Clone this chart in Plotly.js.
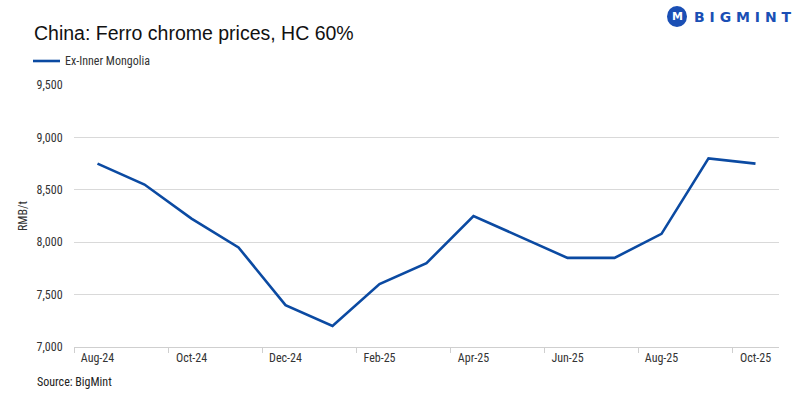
<!DOCTYPE html>
<html>
<head>
<meta charset="utf-8">
<script src="https://cdn.plot.ly/plotly-3.0.1.min.js"></script>
<style>html,body{margin:0;padding:0;background:#fff;}#chart{width:800px;height:399px;}</style>
</head>
<body>
<div id="chart"></div>
<script>
const months = ["Aug-24","Sep-24","Oct-24","Nov-24","Dec-24","Jan-25","Feb-25","Mar-25","Apr-25","May-25","Jun-25","Jul-25","Aug-25","Sep-25","Oct-25"];
const prices = [8750, 8550, 8225, 7950, 7400, 7200, 7600, 7800, 8250, 8050, 7850, 7850, 8080, 8800, 8750];
const seriesName = "Ex-Inner Mongolia";
const yTicks = [7000, 7500, 8000, 8500, 9000, 9500];

const idx = months.map((m, i) => i);
const labelIdx = idx.filter(i => i % 2 === 0);
const labelText = labelIdx.map(i => months[i]);
const boundaryTicks = labelIdx.map(i => i - 0.5);

const narrow = '"Liberation Sans Narrow", "Arial Narrow", "Roboto Condensed", Roboto, sans-serif';

const trace = {
  x: idx, y: prices, type: 'scatter', mode: 'lines', name: seriesName,
  line: {color: '#0b4aa2', width: 2.6}, showlegend: false, hoverinfo: 'skip'
};

const layout = {
  width: 800, height: 399,
  margin: {l: 74, r: 21, t: 85, b: 52},
  paper_bgcolor: '#ffffff', plot_bgcolor: '#ffffff',
  showlegend: false,
  xaxis: {
    range: [-0.5, 14.5], tickmode: 'array', tickvals: labelIdx, ticktext: labelText,
    ticks: '', showgrid: false, zeroline: false,
    showline: true, linecolor: '#cfcfcf', linewidth: 1,
    tickfont: {family: narrow, size: 12, color: '#333333'},
    minor: {tickmode: 'array', tickvals: boundaryTicks, ticks: 'outside', ticklen: 5, tickcolor: '#cfcfcf', tickwidth: 1, showgrid: false},
    fixedrange: true
  },
  yaxis: {
    range: [7000, 9500], tickmode: 'array', tickvals: yTicks, tickformat: ',d',
    showgrid: true, gridcolor: '#d9d9d9', gridwidth: 1, zeroline: false,
    showline: false, ticks: 'outside', ticklen: 8, tickcolor: 'rgba(0,0,0,0)',
    tickfont: {family: narrow, size: 12, color: '#333333'},
    title: {text: 'RMB/t', font: {family: narrow, size: 12, color: '#333333'}, standoff: 6},
    fixedrange: true
  },
  shapes: [
    {type: 'line', xref: 'paper', yref: 'paper', x0: -41/705, x1: -14/705, y0: (399-52-61)/262, y1: (399-52-61)/262, line: {color: '#0b4aa2', width: 2.6}},
    {type: 'circle', xref: 'paper', yref: 'paper', x0: (667-74)/705, x1: (687-74)/705, y0: (347-27)/262, y1: (347-6)/262, fillcolor: '#1a4fb5', line: {width: 0}}
  ],
  annotations: [
    {xref: 'paper', yref: 'paper', x: -42/705, y: (347-33)/262, xanchor: 'left', yanchor: 'middle', showarrow: false,
     text: 'China: Ferro chrome prices, HC 60%', font: {family: '"Liberation Sans", Arial, sans-serif', size: 19.5, color: '#111111'}},
    {xref: 'paper', yref: 'paper', x: -11/705, y: (347-61)/262, xanchor: 'left', yanchor: 'middle', showarrow: false,
     text: seriesName, font: {family: narrow, size: 12, color: '#333333'}},
    {xref: 'paper', yref: 'paper', x: -39/705, y: (347-382)/262, xanchor: 'left', yanchor: 'middle', showarrow: false,
     text: 'Source: BigMint', font: {family: narrow, size: 12, color: '#222222'}},
    {xref: 'paper', yref: 'paper', x: (692-74)/705, y: (347-17)/262, xanchor: 'left', yanchor: 'middle', showarrow: false,
     text: '<b>B I G M I N T</b>', font: {family: '"DejaVu Sans", sans-serif', size: 14, color: '#1a4fb5'}},
    {xref: 'paper', yref: 'paper', x: (677-74)/705, y: (347-16)/262, xanchor: 'center', yanchor: 'middle', showarrow: false,
     text: '<b>M</b>', font: {family: '"DejaVu Sans", sans-serif', size: 11, color: '#ffffff'}}
  ]
};

Plotly.newPlot('chart', [trace], layout, {displayModeBar: false, staticPlot: true});
</script>
</body>
</html>
